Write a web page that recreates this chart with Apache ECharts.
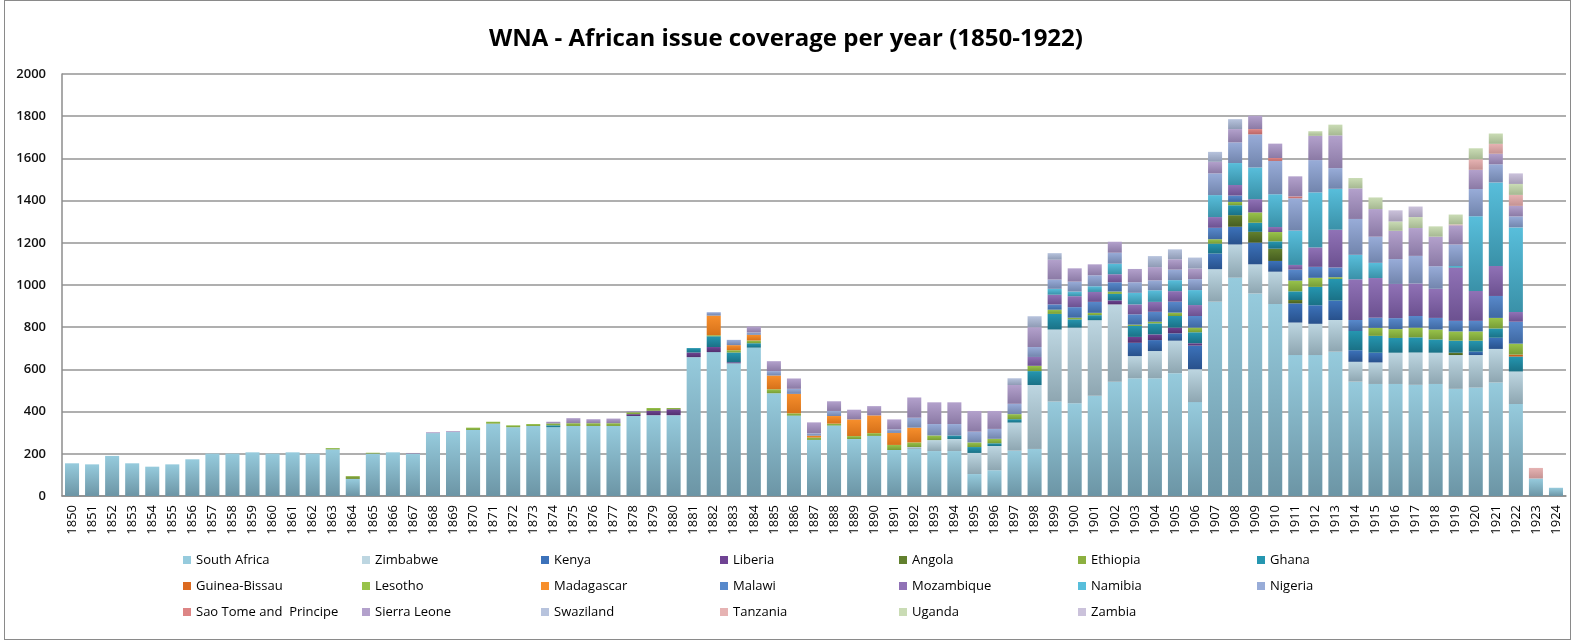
<!DOCTYPE html>
<html><head><meta charset="utf-8">
<script src="https://cdn.jsdelivr.net/npm/echarts@6/dist/echarts.min.js"></script>
<style>
html,body{margin:0;padding:0;background:#fff}
#c{width:1572px;height:640px;position:absolute;left:0;top:0}
#frame{position:absolute;left:4px;top:0;width:1565px;height:638px;border:1px solid #8a8a8a;pointer-events:none}
</style>
</head><body><div id="c"></div><div id="frame"></div>
<script>
const years = ['1850','1851','1852','1853','1854','1855','1856','1857','1858','1859',
 '1860','1861','1862','1863','1864','1865','1866','1867','1868','1869',
 '1870','1871','1872','1873','1874','1875','1876','1877','1878','1879',
 '1880','1881','1882','1883','1884','1885','1886','1887','1888','1889',
 '1890','1891','1892','1893','1894','1895','1896','1897','1898','1899',
 '1900','1901','1902','1903','1904','1905','1906','1907','1908','1909',
 '1910','1911','1912','1913','1914','1915','1916','1917','1918','1919',
 '1920','1921','1922','1923','1924'];

const yTicks = [0,200,400,600,800,1000,1200,1400,1600,1800,2000];

const southAfrica = [155,150,190,155,139,150,174,201,201,207,
 201,207,201,221,81,201,207,201,298,303,
 313,343,326,332,326,332,332,332,379,383,
 383,658,682,629,703,487,381,266,334,270,
 285,218,223,213,213,104,122,215,223,448,
 440,475,542,558,558,582,445,921,1035,960,
 910,668,668,684,542,531,531,527,531,508,
 514,538,436,83,39];
const zimbabwe = [0,0,0,0,0,0,0,0,0,0,
 0,0,0,0,0,0,0,0,0,0,
 0,0,0,0,0,0,0,0,0,0,
 0,0,0,0,0,0,0,0,0,0,
 0,0,9,52,57,100,115,133,303,341,
 358,358,366,105,129,154,156,154,157,138,
 153,154,148,150,94,102,148,153,148,160,
 154,159,154,0,0];
const kenya = [0,0,0,0,0,0,0,0,0,0,
 0,0,0,0,0,0,0,0,0,0,
 0,0,0,0,0,0,0,0,0,0,
 0,0,0,0,0,0,0,0,0,0,
 0,0,0,0,0,0,0,0,0,0,
 0,0,0,63,52,35,112,74,84,103,
 51,91,88,92,55,46,0,0,0,0,
 16,53,0,0,0];
const liberia = [0,0,0,0,0,0,0,0,0,0,
 0,0,0,0,0,0,0,0,0,0,
 0,0,0,0,0,0,0,0,9,21,
 28,22,24,5,0,0,0,0,0,0,
 0,0,0,0,0,0,0,0,0,0,
 0,0,19,28,27,27,11,0,0,0,
 0,0,0,0,0,0,0,0,0,0,
 0,0,0,0,0];
const angola = [0,0,0,0,0,0,0,0,0,0,
 0,0,0,0,0,0,0,0,0,0,
 0,0,0,0,0,0,0,0,0,0,
 0,0,0,0,0,0,0,0,0,0,
 0,0,0,0,0,0,0,0,0,0,
 0,0,0,0,0,0,0,0,55,51,
 58,16,0,0,0,0,0,0,0,11,
 0,0,0,0,0];
const ethiopia = [0,0,0,0,0,0,0,0,0,0,
 0,0,0,0,13,0,0,0,0,0,
 0,0,0,0,0,0,0,0,0,0,
 0,0,0,0,0,0,0,0,0,0,
 0,0,0,0,0,0,0,0,0,0,
 0,0,0,0,0,0,0,0,0,0,
 0,0,0,0,0,0,0,0,0,0,
 0,0,0,0,0];
const ghana = [0,0,0,0,0,0,0,0,0,0,
 0,0,0,0,0,0,0,0,0,0,
 0,0,0,0,9,0,0,0,0,0,
 0,21,51,46,21,0,0,0,0,0,
 0,0,0,0,17,28,13,16,66,74,
 39,24,31,52,52,55,52,47,47,43,
 35,41,87,103,91,80,70,72,63,57,
 52,44,71,0,0];
const guineaBissau = [0,0,0,0,0,0,0,0,0,0,
 0,0,0,0,0,0,0,0,0,0,
 0,0,0,0,0,0,0,0,0,0,
 0,0,0,0,0,0,0,0,0,0,
 0,0,0,0,0,0,0,0,0,0,
 0,0,0,0,0,0,0,0,0,0,
 0,0,0,0,0,0,0,0,0,0,
 0,0,9,0,0];
const lesotho = [0,0,0,0,0,0,0,0,0,0,
 0,0,0,6,0,4,0,0,0,0,
 11,9,9,9,9,13,13,13,9,13,
 6,0,5,11,13,19,11,11,9,14,
 13,24,22,22,0,22,21,24,25,20,
 8,11,11,6,8,16,22,21,16,49,
 44,51,43,8,0,38,42,46,47,44,
 44,50,52,0,0];
const madagascar = [0,0,0,0,0,0,0,0,0,0,
 0,0,0,0,0,0,0,0,0,0,
 0,0,0,0,0,0,0,0,0,0,
 0,0,93,24,27,65,92,9,36,79,
 84,57,70,0,0,0,0,0,0,0,
 0,0,0,0,0,0,0,0,0,0,
 0,0,0,0,0,0,0,0,0,0,
 0,0,0,0,0];
const malawi = [0,0,0,0,0,0,0,0,0,0,
 0,0,0,0,0,0,0,0,0,0,
 0,0,0,0,0,0,0,0,0,0,
 0,0,0,0,0,0,0,0,0,0,
 0,0,0,0,0,0,0,0,0,25,
 50,52,44,49,47,52,55,54,30,0,
 0,52,52,46,52,48,52,55,55,50,
 50,104,104,0,0];
const mozambique = [0,0,0,0,0,0,0,0,0,0,
 0,0,0,0,0,0,0,0,0,0,
 0,0,0,0,0,0,0,0,0,0,
 0,0,0,0,0,0,0,0,0,0,
 0,0,0,0,0,0,0,0,42,46,
 52,47,38,47,47,50,52,51,50,63,
 24,22,92,179,193,188,162,154,138,252,
 142,142,46,0,0];
const namibia = [0,0,0,0,0,0,0,0,0,0,
 0,0,0,0,0,0,0,0,0,0,
 0,0,0,0,0,0,0,0,0,0,
 0,0,0,0,0,0,0,0,0,0,
 0,0,0,0,0,0,0,0,0,28,
 22,27,50,55,55,52,71,104,104,150,
 155,163,261,194,116,72,0,0,0,8,
 354,396,401,0,0];
const nigeria = [0,0,0,0,0,0,0,0,0,0,
 0,0,0,0,0,0,0,0,0,0,
 0,0,0,0,0,0,0,0,0,0,
 0,0,16,25,11,21,24,11,24,0,
 0,17,47,54,54,51,47,49,47,44,
 47,52,52,50,47,50,52,103,98,157,
 158,153,153,98,170,124,118,131,107,102,
 129,86,52,0,0];
const saoTome = [0,0,0,0,0,0,0,0,0,0,
 0,0,0,0,0,0,0,0,0,0,
 0,0,0,0,0,0,0,0,0,0,
 0,0,0,0,0,0,0,0,0,0,
 0,0,0,0,0,0,0,0,0,0,
 0,0,0,0,0,0,0,0,0,25,
 14,9,0,0,0,0,0,0,0,0,
 0,0,0,0,0];
const sierraLeone = [0,0,0,0,0,0,0,0,0,0,
 0,0,0,0,0,0,0,3,4,4,
 0,0,0,0,8,24,19,22,5,0,
 0,0,0,0,28,47,49,52,46,46,
 44,47,96,103,103,98,85,89,94,94,
 63,52,52,63,63,49,50,55,63,63,
 68,95,115,155,145,131,134,132,140,91,
 91,50,50,0,0];
const swaziland = [0,0,0,0,0,0,0,0,0,0,
 0,0,0,0,0,0,0,0,0,0,
 0,0,0,0,0,0,0,0,0,0,
 0,0,0,0,0,0,0,0,0,0,
 0,0,0,0,0,0,0,32,52,31,
 0,0,0,0,52,47,52,47,47,0,
 0,0,0,0,0,0,0,0,0,0,
 0,0,0,0,0];
const tanzania = [0,0,0,0,0,0,0,0,0,0,
 0,0,0,0,0,0,0,0,0,0,
 0,0,0,0,0,0,0,0,0,0,
 0,0,0,0,0,0,0,0,0,0,
 0,0,0,0,0,0,0,0,0,0,
 0,0,0,0,0,0,0,0,0,0,
 0,0,0,0,0,0,0,0,0,4,
 50,47,52,50,0];
const uganda = [0,0,0,0,0,0,0,0,0,0,
 0,0,0,0,0,0,0,0,0,0,
 0,0,0,0,0,0,0,0,0,0,
 0,0,0,0,0,0,0,0,0,0,
 0,0,0,0,0,0,0,0,0,0,
 0,0,0,0,0,0,0,0,0,0,
 0,0,22,51,49,55,44,52,49,47,
 52,49,52,0,0];
const zambia = [0,0,0,0,0,0,0,0,0,0,
 0,0,0,0,0,0,0,0,0,0,
 0,0,0,0,0,0,0,0,0,0,
 0,0,0,0,0,0,0,0,0,0,
 0,0,0,0,0,0,0,0,0,0,
 0,0,0,0,0,0,0,0,0,0,
 0,0,0,0,0,0,53,50,0,0,
 0,0,50,0,0];

const seriesNames = ['South Africa','Zimbabwe','Kenya','Liberia','Angola','Ethiopia','Ghana',
 'Guinea-Bissau','Lesotho','Madagascar','Malawi','Mozambique','Namibia','Nigeria',
 'Sao Tome and  Principe','Sierra Leone','Swaziland','Tanzania','Uganda','Zambia'];
const seriesData = [southAfrica,zimbabwe,kenya,liberia,angola,ethiopia,ghana,
 guineaBissau,lesotho,madagascar,malawi,mozambique,namibia,nigeria,
 saoTome,sierraLeone,swaziland,tanzania,uganda,zambia];

const palette = [
 ['#96cbdd','#6c95a5'], ['#bdd6e1','#8ea6b1'], ['#3c72ba','#28518c'], ['#704394','#52306e'],
 ['#62802e','#465d20'], ['#8cb040','#6c8a30'], ['#2596b0','#1a7186'], ['#dc6a20','#b85410'],
 ['#98c34a','#779c36'], ['#f78f2c','#d6711a'], ['#5889cb','#3f68a2'], ['#9072b6','#6c5190'],
 ['#58bedb','#3a91a8'], ['#98acd8','#7285ad'], ['#dd8585','#bb6666'], ['#b3a1cc','#8b7aa5'],
 ['#b7c3dd','#8f9bb5'], ['#e6b3b3','#c49292'], ['#cadcb5','#a6b892'], ['#cbc2db','#a69db7']
];

function grad(c) {
  return {type:'linear',x:0,y:0,x2:0,y2:1,colorStops:[{offset:0,color:c[0]},{offset:1,color:c[1]}]};
}

const chart = echarts.init(document.getElementById('c'), null, {renderer:'canvas'});
const FONT = 'Open Sans';
chart.setOption({
  animation:false,
  backgroundColor:'#ffffff',
  title:{
    text:'WNA - African issue coverage per year (1850-1922)',
    left:'center', top:22,
    textStyle:{fontFamily:FONT,fontSize:24,fontWeight:'bold',color:'#000'}
  },
  legend:{
    left:183, top:547, width:1256, padding:0,
    itemWidth:8, itemHeight:8, itemGap:0, icon:'rect',
    textStyle:{fontFamily:FONT,fontSize:13,color:'#000',width:166,lineHeight:26,overflow:'truncate'},
    data:seriesNames.map((n,i)=>({name:n,itemStyle:{color:palette[i][0]}}))
  },
  grid:{left:62,right:6,top:74,bottom:144,containLabel:false},
  xAxis:{
    type:'category', data:years,
    axisLine:{show:true,lineStyle:{color:'#8c8c8c',width:1.5}},
    axisTick:{show:false},
    axisLabel:{rotate:90,interval:0,fontFamily:FONT,fontSize:13,color:'#000',margin:9}
  },
  yAxis:{
    type:'value', min:yTicks[0], max:yTicks[yTicks.length-1], interval:yTicks[1]-yTicks[0],
    axisLine:{show:true,lineStyle:{color:'#8c8c8c',width:1.5}},
    axisTick:{show:false},
    splitLine:{lineStyle:{color:'#959595',width:1.5}},
    axisLabel:{fontFamily:FONT,fontSize:13,fontWeight:600,color:'#111',margin:16,formatter:(v)=>String(v)}
  },
  series:seriesData.map((d,i)=>({
    name:seriesNames[i], type:'bar', stack:'total', data:d,
    barCategoryGap:'30%',
    itemStyle:{color:grad(palette[i])},
    emphasis:{disabled:true}
  }))
});
</script></body></html>
